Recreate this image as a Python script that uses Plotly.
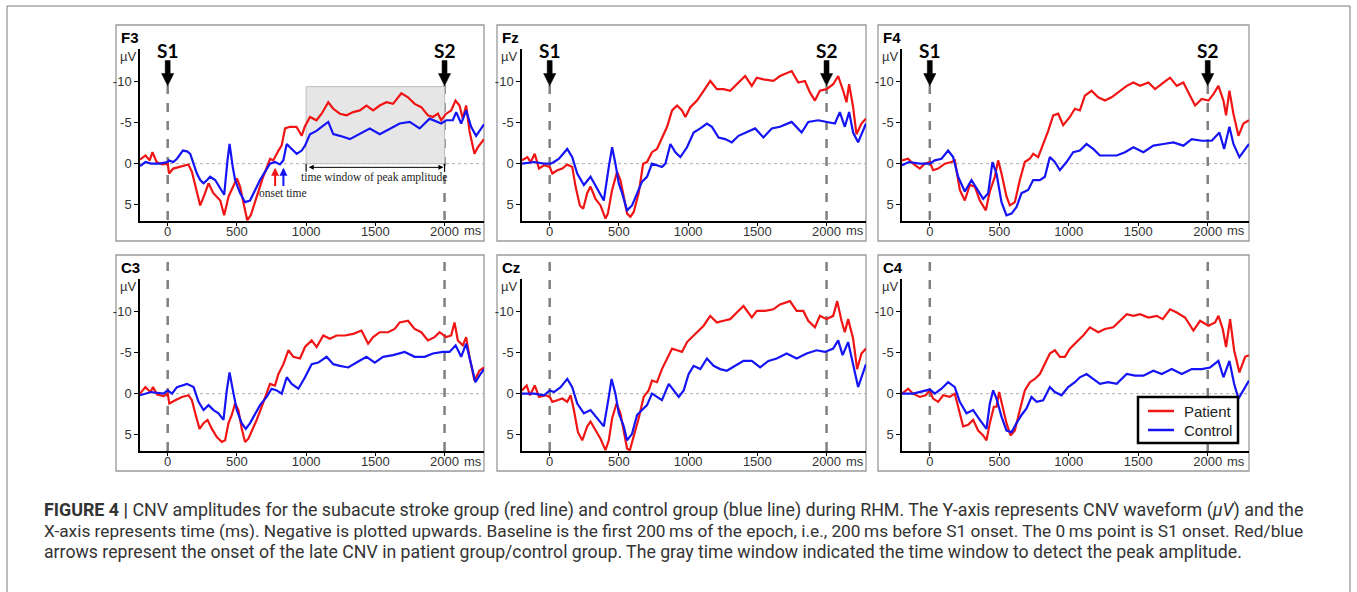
import plotly.graph_objects as go

# ---------------- data (time in ms, amplitude in µV) ----------------
F3_patient_t = [-200,-160,-130,-110,-80,-40,0,10,40,80,150,175,200,235,265,295,330,380,408,440,500,523,550,575,600,620,655,690,740,763,800,823,848,883,930,968,990,1028,1075,1112,1160,1196,1244,1292,1340,1388,1436,1484,1532,1580,1628,1688,1736,1784,1832,1880,1916,1952,1976,2012,2048,2079,2108,2132,2156,2180,2216,2240,2285]
F3_patient_v = [-0.5,-1.0,-0.4,-1.4,-0.2,0.1,0.0,1.2,0.6,0.4,0.1,1.0,2.8,5.1,3.8,2.4,3.6,4.5,6.3,4.0,1.8,2.8,5.0,6.9,6.3,5.3,3.6,1.6,-0.6,-0.4,-1.6,-2.2,-4.3,-4.5,-4.5,-3.4,-4.5,-5.7,-5.3,-6.1,-7.5,-6.7,-6.1,-5.9,-6.3,-6.5,-7.1,-6.5,-7.1,-7.5,-7.3,-8.6,-8.1,-7.3,-6.9,-5.9,-5.7,-6.1,-5.3,-6.1,-6.5,-7.7,-7.1,-5.5,-7.1,-4.0,-1.2,-2.0,-3.0]
F3_control_t = [-200,-160,-120,-60,0,7,40,67,110,140,163,190,211,235,259,285,307,343,380,408,432,447,470,487,523,559,595,631,667,703,739,775,811,835,860,896,932,968,992,1028,1075,1112,1160,1196,1244,1316,1388,1460,1532,1604,1676,1748,1820,1892,1940,1976,2012,2060,2084,2120,2156,2192,2228,2285]
F3_control_v = [0.3,-0.2,0.0,0.0,-0.2,-0.4,-0.2,-0.6,-1.6,-1.5,-1.2,0.2,1.2,2.0,2.4,2.0,1.6,2.0,3.0,3.8,-0.4,-2.4,0.4,2.0,3.6,4.7,4.5,3.2,2.0,1.0,0.0,-0.2,0.1,-0.4,-2.4,-1.8,-1.2,-1.6,-2.2,-3.6,-4.0,-4.5,-5.1,-3.6,-3.4,-3.0,-3.6,-4.3,-3.6,-4.3,-4.9,-5.1,-4.3,-5.5,-5.1,-4.9,-5.3,-5.3,-6.3,-4.9,-6.5,-4.5,-3.4,-4.8]

Fz_patient_t = [-200,-161,-137,-108,-77,-41,0,19,55,91,127,163,187,218,242,271,295,331,367,403,420,451,487,511,535,559,583,607,643,675,703,739,775,811,848,884,920,956,980,1016,1064,1112,1160,1208,1256,1304,1352,1412,1460,1496,1544,1616,1664,1712,1748,1796,1844,1880,1916,1952,2000,2048,2084,2120,2144,2163,2192,2216,2252,2285]
Fz_patient_v = [-0.4,-0.8,-0.2,-1.2,0.6,0.2,0.4,1.2,0.8,0.6,0.1,0.4,2.8,5.1,5.5,3.6,2.8,4.3,5.1,6.7,6.1,3.2,1.0,2.0,4.0,6.1,6.5,5.9,3.6,0.0,-0.2,-1.4,-1.8,-3.2,-4.5,-6.5,-7.1,-6.5,-5.7,-6.9,-7.7,-8.9,-10.1,-9.1,-9.1,-8.9,-9.7,-10.7,-9.5,-10.5,-10.3,-10.1,-10.7,-11.1,-11.3,-9.9,-10.1,-8.7,-7.7,-8.9,-9.1,-9.7,-10.7,-8.9,-7.5,-9.7,-6.9,-3.6,-4.9,-5.5]
Fz_control_t = [-200,-113,-40,7,31,67,127,163,199,247,295,343,391,427,451,475,499,523,559,595,631,667,703,739,775,811,836,872,908,944,992,1040,1088,1136,1172,1220,1268,1316,1364,1424,1484,1544,1604,1664,1748,1820,1868,1940,2000,2060,2096,2132,2163,2192,2228,2285]
Fz_control_v = [0.0,-0.2,0.0,0.0,-0.2,-0.6,-1.8,-0.8,1.2,2.6,1.6,3.0,4.5,0.4,-2.0,0.0,2.4,3.6,5.7,5.1,3.6,2.2,1.6,0.0,0.2,0.4,0.0,-2.4,-1.4,-0.8,-2.0,-3.8,-4.3,-4.9,-4.5,-3.2,-3.0,-2.6,-3.4,-3.8,-4.3,-3.2,-4.3,-4.5,-5.1,-3.8,-5.1,-5.3,-5.1,-4.9,-6.3,-4.5,-6.3,-3.8,-2.6,-4.9]

F4_patient_t = [-200,-156,-120,-72,-36,0,24,60,108,156,180,216,252,288,324,360,403,432,468,492,516,552,576,612,648,684,720,744,780,816,852,888,924,960,1008,1044,1080,1116,1164,1212,1260,1308,1369,1417,1465,1513,1573,1621,1681,1729,1777,1825,1861,1909,1957,2005,2041,2077,2113,2132,2156,2185,2221,2257,2297]
F4_patient_v = [-0.4,-0.6,0.0,0.6,0.0,-0.2,0.8,0.6,0.0,-0.2,-0.4,3.2,4.5,2.6,2.8,4.5,5.7,3.4,1.6,-0.4,1.2,4.0,5.1,4.7,2.0,-0.2,-0.6,-1.2,-0.8,-2.4,-4.0,-5.9,-6.1,-4.7,-5.7,-6.7,-6.5,-8.3,-8.9,-8.1,-7.7,-8.1,-8.9,-9.5,-9.9,-9.5,-9.9,-9.1,-9.9,-10.5,-9.5,-9.9,-8.7,-7.1,-7.9,-7.7,-8.5,-9.5,-7.7,-5.9,-8.9,-6.1,-3.4,-4.9,-5.3]
F4_control_t = [-200,-150,-72,0,36,84,132,168,204,252,300,336,384,420,451,480,516,552,588,624,660,708,744,792,828,864,900,936,984,1032,1080,1128,1176,1224,1284,1345,1405,1465,1537,1609,1681,1753,1825,1885,1957,2029,2084,2118,2156,2185,2228,2297]
F4_control_v = [0.2,-0.2,0.0,0.0,-0.4,-0.6,-1.6,-0.8,1.6,3.4,2.0,3.0,4.3,3.6,-0.2,1.2,4.7,6.3,6.1,5.3,3.6,3.2,2.0,2.0,1.6,-0.8,-0.2,0.8,-0.2,-1.4,-1.6,-2.4,-1.8,-1.0,-1.0,-1.0,-1.4,-2.0,-1.4,-2.2,-2.4,-2.6,-2.2,-3.0,-2.8,-2.8,-3.8,-1.8,-4.5,-2.4,-0.8,-2.4]

C3_patient_t = [-200,-161,-125,-106,-77,-29,0,12,55,103,151,175,199,230,259,288,319,355,391,415,439,463,487,511,535,559,583,615,643,679,715,739,775,800,836,872,908,956,992,1040,1076,1124,1172,1220,1280,1340,1400,1448,1484,1532,1592,1640,1676,1736,1784,1832,1880,1928,1964,2012,2048,2072,2096,2132,2156,2180,2216,2252,2285]
C3_patient_v = [0.0,-0.8,-0.2,-0.8,0.1,0.3,0.0,1.2,0.8,0.4,0.2,0.8,2.4,4.3,3.6,3.2,4.3,5.3,5.9,5.7,3.6,2.6,1.2,2.0,4.3,5.9,5.5,4.3,3.2,1.6,0.0,-1.2,-1.0,-2.4,-3.6,-5.3,-4.5,-4.3,-5.7,-6.5,-5.7,-7.1,-6.7,-7.1,-7.1,-7.3,-7.7,-6.1,-6.9,-7.5,-7.5,-7.9,-8.7,-8.9,-7.9,-7.5,-6.5,-6.9,-7.5,-6.9,-7.1,-8.7,-6.5,-5.9,-6.9,-4.5,-1.6,-2.8,-3.2]
C3_control_t = [-200,-120,-30,0,31,67,139,187,223,259,295,331,367,403,427,447,471,499,535,564,595,631,667,715,751,788,824,860,896,944,992,1040,1088,1148,1196,1244,1304,1364,1436,1496,1556,1628,1712,1784,1856,1916,1988,2036,2080,2120,2156,2192,2223,2252,2285]
C3_control_v = [0.2,-0.2,0.0,-0.4,0.0,-0.8,-1.2,-0.8,1.0,2.0,1.4,2.0,2.4,3.2,-0.4,-2.6,-0.4,2.0,3.6,4.3,3.6,2.4,1.4,0.4,-0.6,-0.4,0.0,-2.0,-1.2,-0.6,-2.0,-3.6,-3.8,-4.5,-3.6,-3.4,-3.2,-3.8,-4.5,-3.8,-4.5,-4.7,-5.1,-4.5,-4.5,-4.9,-5.1,-5.1,-5.9,-4.5,-6.1,-3.6,-1.4,-2.2,-3.0]

Cz_patient_t = [-200,-166,-142,-108,-77,-29,0,19,55,91,127,151,175,204,235,271,295,331,367,403,427,451,483,511,535,559,579,607,643,679,715,739,775,811,848,884,920,956,992,1028,1064,1112,1160,1208,1256,1304,1352,1400,1460,1496,1556,1616,1664,1736,1784,1832,1868,1916,1952,2000,2048,2077,2108,2132,2156,2192,2221,2252,2285]
Cz_patient_v = [-0.4,-1.0,0.2,-1.0,0.4,0.2,0.4,1.0,0.8,0.6,1.0,0.2,2.0,4.7,5.7,4.0,3.4,4.5,5.5,6.9,5.7,3.0,1.2,2.4,4.5,6.7,6.9,5.3,3.0,0.4,-0.4,-1.6,-1.4,-3.0,-4.3,-5.5,-5.3,-5.1,-6.3,-6.9,-7.5,-8.3,-9.5,-8.7,-8.9,-9.1,-9.9,-10.7,-9.3,-10.1,-10.1,-10.3,-10.9,-11.3,-10.1,-10.1,-8.9,-8.1,-9.5,-9.1,-9.5,-11.3,-8.9,-7.5,-9.1,-6.7,-3.0,-4.9,-5.5]
Cz_control_t = [-200,-110,-41,0,31,79,127,163,199,247,295,343,391,427,447,475,499,535,559,595,631,667,703,739,775,811,860,896,932,968,1004,1040,1088,1136,1184,1232,1280,1340,1400,1460,1520,1580,1640,1712,1784,1856,1928,1988,2048,2084,2116,2156,2192,2228,2285]
Cz_control_v = [0.0,0.0,0.2,-0.4,-0.2,-0.8,-1.8,-0.8,1.2,2.4,2.0,3.0,4.0,0.4,-1.8,0.0,2.4,4.0,5.7,4.9,2.6,2.0,1.4,0.0,0.4,0.8,-1.2,-0.4,0.4,-0.4,-2.4,-3.4,-3.0,-4.3,-3.4,-3.0,-2.8,-3.4,-4.0,-4.0,-3.2,-4.0,-4.3,-4.9,-4.3,-4.9,-5.3,-5.1,-5.5,-6.5,-4.7,-6.3,-3.4,-0.8,-3.6]

C4_patient_t = [-200,-156,-120,-72,-30,0,24,60,96,144,180,204,240,276,312,348,384,408,432,461,480,499,523,552,581,612,648,684,720,756,792,828,864,900,936,972,1008,1056,1104,1152,1212,1260,1320,1369,1417,1465,1513,1573,1633,1676,1729,1777,1837,1897,1945,2005,2053,2077,2108,2132,2161,2190,2228,2269,2297]
C4_patient_v = [0.0,-0.6,0.0,0.4,0.2,-0.4,0.6,1.0,0.2,0.4,0.0,1.6,4.0,3.8,3.2,4.5,5.1,5.7,3.6,1.6,1.6,-0.2,1.6,3.6,5.1,4.5,2.0,-0.4,-1.4,-1.8,-2.4,-3.6,-4.9,-5.3,-4.5,-4.5,-5.5,-6.3,-7.1,-8.1,-7.5,-7.9,-8.1,-8.9,-9.7,-9.5,-9.7,-9.3,-9.5,-9.1,-10.3,-9.9,-9.3,-7.7,-8.9,-8.3,-8.7,-9.5,-7.9,-5.7,-9.1,-5.3,-2.6,-4.5,-4.7]
C4_control_t = [-200,-120,0,36,84,132,180,216,264,312,360,408,432,456,480,516,552,588,624,660,696,732,768,816,864,900,948,996,1044,1080,1128,1176,1224,1284,1345,1417,1477,1537,1609,1669,1741,1813,1885,1957,2017,2077,2113,2156,2190,2221,2297]
C4_control_v = [0.0,0.0,-0.5,0.0,-0.6,-1.4,-0.8,1.0,2.4,2.0,3.2,4.3,1.2,-0.4,0.6,2.8,4.5,4.7,3.6,2.6,1.8,0.4,1.0,0.8,-0.8,-0.2,0.2,-0.8,-1.4,-2.0,-2.4,-1.8,-1.2,-1.4,-1.2,-2.4,-2.2,-2.2,-2.8,-2.4,-3.0,-2.4,-3.0,-3.0,-3.2,-4.0,-2.0,-4.0,-1.2,0.6,-1.6]

panel_names = ["F3", "Fz", "F4", "C3", "Cz", "C4"]
series_names = ["Patient", "Control"]
x_ticks = [0, 500, 1000, 1500, 2000]
y_ticks = [-10, -5, 0, 5]
y_tick_labels = ["-10", "-5", "0", "5"]
stimulus_times = [0, 2000]
stimulus_labels = ["S1", "S2"]
window_times = [1000, 2000]
window_peak = -9.4
onset_patient = 776
onset_control = 836

CAPTION = [
    "<b>FIGURE 4 |</b> CNV amplitudes for the subacute stroke group (red line) and control group (blue line) during RHM. The Y-axis represents CNV waveform (<i>µV</i>) and the",
    "X-axis represents time (ms). Negative is plotted upwards. Baseline is the first 200\u2009ms of the epoch, i.e., 200\u2009ms before S1 onset. The 0\u2009ms point is S1 onset. Red/blue",
    "arrows represent the onset of the late CNV in patient group/control group. The gray time window indicated the time window to detect the peak amplitude.",
]
CAPTION_SIZES = [17.85, 17.3, 17.7]   # first two lines are justified in the original

series_data = {
    "F3": (F3_patient_t, F3_patient_v, F3_control_t, F3_control_v),
    "Fz": (Fz_patient_t, Fz_patient_v, Fz_control_t, Fz_control_v),
    "F4": (F4_patient_t, F4_patient_v, F4_control_t, F4_control_v),
    "C3": (C3_patient_t, C3_patient_v, C3_control_t, C3_control_v),
    "Cz": (Cz_patient_t, Cz_patient_v, Cz_control_t, Cz_control_v),
    "C4": (C4_patient_t, C4_patient_v, C4_control_t, C4_control_v),
}
for k, (a, b, c, d) in series_data.items():
    assert len(a) == len(b), (k, "patient", len(a), len(b))
    assert len(c) == len(d), (k, "control", len(c), len(d))

# ---------------- layout geometry (pixels) ----------------
W, H = 1357, 592
def px(x): return x / W
def py(y): return 1 - y / H

RED = "#f01414"
BLUE = "#1414f5"
TICK_FONT = dict(family="Liberation Sans, Arial, sans-serif", size=13, color="#333333")

col_geo = [(116, 484, 140, [-200, 2285]), (497, 866, 522, [-200, 2285]), (878, 1249, 902, [-200, 2297])]
row_geo = [(25, 241, 49, 221), (255, 471, 279, 451)]
Y_RANGE = [7, -14]

fig = go.Figure()
shapes, annotations = [], []

for i, name in enumerate(panel_names):
    r, c = divmod(i, 3)
    bl, br, axl, xr = col_geo[c]
    bt, bb, axt, axb = row_geo[r]
    n = "" if i == 0 else str(i + 1)
    xa, ya = "x" + n, "y" + n
    pt, pv, ct, cv = series_data[name]
    fig.add_trace(go.Scatter(x=pt, y=pv, mode="lines", line=dict(color=RED, width=2.2),
                             name=series_names[0], xaxis=xa, yaxis=ya, showlegend=False))
    fig.add_trace(go.Scatter(x=ct, y=cv, mode="lines", line=dict(color=BLUE, width=2.2),
                             name=series_names[1], xaxis=xa, yaxis=ya, showlegend=False))
    fig.update_layout({
        "xaxis" + n: dict(domain=[px(axl), px(br)], range=xr, anchor=ya, tickvals=x_ticks,
                          showline=True, linecolor="black", linewidth=1.5, ticks="outside",
                          ticklen=3, tickcolor="black", tickfont=TICK_FONT, showgrid=False,
                          zeroline=False, fixedrange=True, ticklabelstandoff=-5),
        "yaxis" + n: dict(domain=[py(axb), py(axt)], range=Y_RANGE, anchor=xa, tickvals=y_ticks,
                          ticktext=y_tick_labels, showline=True, linecolor="black", linewidth=1.5,
                          ticks="outside", ticklen=4, tickcolor="black", tickfont=TICK_FONT,
                          showgrid=False, zeroline=False, fixedrange=True),
    })
    shapes.append(dict(type="rect", xref="paper", yref="paper", x0=px(bl), x1=px(br), y0=py(bb), y1=py(bt),
                       line=dict(color="#9a9a9a", width=1.3), fillcolor="rgba(0,0,0,0)", layer="below"))
    shapes.append(dict(type="line", xref=xa + " domain", yref=ya, x0=0, x1=1, y0=0, y1=0,
                       line=dict(color="#b0b0b0", width=1, dash="dot"), layer="below"))
    for st in stimulus_times:
        if r == 0:
            shapes.append(dict(type="line", xref=xa, yref=ya, x0=st, x1=st, y0=-9.6, y1=Y_RANGE[0],
                               line=dict(color="#808080", width=2.5, dash="dash"), layer="below"))
        else:
            shapes.append(dict(type="line", xref=xa, yref=ya + " domain", x0=st, x1=st, y0=0,
                               y1=1 + (axt - bt) / (axb - axt),
                               line=dict(color="#808080", width=2.5, dash="dash"), layer="below"))
    annotations.append(dict(text="<b>%s</b>" % name, xref="paper", yref="paper", x=px(bl + 3),
                            y=py(bt + 12), xanchor="left", yanchor="middle", showarrow=False,
                            font=dict(family="Liberation Sans, Arial", size=15, color="black")))
    annotations.append(dict(text="µV", xref="paper", yref="paper", x=px(bl + 2),
                            y=py(axt + 7), xanchor="left", yanchor="middle", showarrow=False,
                            font=dict(family="Liberation Sans, Arial", size=13, color="#333333")))
    annotations.append(dict(text="ms", xref=xa, yref="paper", x=2205, y=py(axb + 10),
                            xanchor="center", yanchor="middle", showarrow=False, font=TICK_FONT))
    if r == 0:
        for st, lab in zip(stimulus_times, stimulus_labels):
            path = ("M {a},-12.6 L {b},-12.6 L {b},-11.0 L {d},-11.0 L {c},-9.5 L {e},-11.0 L {a},-11.0 Z"
                    .format(a=st - 18, b=st + 18, c=st, d=st + 44, e=st - 44))
            shapes.append(dict(type="path", xref=xa, yref=ya, path=path, fillcolor="black",
                               line=dict(color="black", width=0.5), layer="above"))
            annotations.append(dict(text="<b>%s</b>" % lab, xref=xa, yref=ya, x=st, y=-13.8,
                                    xanchor="center", yanchor="middle", showarrow=False,
                                    font=dict(family="Lato, Open Sans, sans-serif", size=19, color="black")))
    if name == "F3":
        shapes.append(dict(type="rect", xref=xa, yref=ya, x0=window_times[0], x1=window_times[1],
                           y0=0, y1=window_peak, fillcolor="#e6e6e6",
                           line=dict(color="#bdbdbd", width=1), layer="below"))
        for wt in window_times:
            shapes.append(dict(type="line", xref=xa, yref=ya, x0=wt, x1=wt, y0=0.0, y1=1.0,
                               line=dict(color="black", width=1.2)))
        annotations.append(dict(x=window_times[1] - 8, y=0.45, ax=window_times[0] + 8, ay=0.45,
                                xref=xa, yref=ya, axref=xa, ayref=ya, text="", showarrow=True,
                                arrowhead=2, arrowside="end+start", arrowwidth=1, arrowsize=1,
                                arrowcolor="black"))
        annotations.append(dict(text="time window of peak amplitude", xref=xa, yref=ya, x=1490, y=1.65,
                                xanchor="center", yanchor="middle", showarrow=False,
                                font=dict(family="Liberation Serif, Times New Roman, serif", size=11.5,
                                          color="#222222")))
        annotations.append(dict(text="onset time", xref=xa, yref=ya, x=835, y=3.55,
                                xanchor="center", yanchor="middle", showarrow=False,
                                font=dict(family="Liberation Serif, Times New Roman, serif", size=11.5,
                                          color="#222222")))
        for ot, col in ((onset_patient, RED), (onset_control, BLUE)):
            annotations.append(dict(x=ot, y=0.5, ax=ot, ay=2.9, xref=xa, yref=ya, axref=xa, ayref=ya,
                                    text="", showarrow=True, arrowhead=2, arrowwidth=2,
                                    arrowsize=0.8, arrowcolor=col))

# legend box inside the C4 panel
LEG_L, LEG_T, LEG_R, LEG_B = 1138, 397, 1238, 443
shapes.append(dict(type="rect", xref="paper", yref="paper", x0=px(LEG_L), x1=px(LEG_R), y0=py(LEG_B),
                   y1=py(LEG_T), fillcolor="white", line=dict(color="black", width=2.5), layer="above"))
for k, (nm, col) in enumerate(zip(series_names, (RED, BLUE))):
    yy = LEG_T + 14 + 19 * k
    shapes.append(dict(type="line", xref="paper", yref="paper", x0=px(LEG_L + 10), x1=px(LEG_L + 36),
                       y0=py(yy), y1=py(yy), line=dict(color=col, width=2.5), layer="above"))
    annotations.append(dict(text=nm, xref="paper", yref="paper", x=px(LEG_L + 44), y=py(yy),
                            xanchor="left", yanchor="middle", showarrow=False,
                            font=dict(family="Liberation Sans, Arial", size=15, color="#222222")))

# outer figure frame
shapes.append(dict(type="rect", xref="paper", yref="paper", x0=px(7), x1=px(1350), y0=py(600), y1=py(6),
                   line=dict(color="#7a7a7a", width=1), fillcolor="rgba(0,0,0,0)", layer="below"))

# caption
for k, (line, sz) in enumerate(zip(CAPTION, CAPTION_SIZES)):
    annotations.append(dict(text=line, xref="paper", yref="paper", x=px(42), y=py(510 + 21 * k),
                            xanchor="left", yanchor="middle", showarrow=False, align="left",
                            font=dict(family="Roboto, sans-serif", size=sz, color="#333333")))

fig.update_layout(
    width=W, height=H, margin=dict(l=0, r=0, t=0, b=0),
    template="none", paper_bgcolor="white", plot_bgcolor="rgba(0,0,0,0)",
    shapes=shapes, annotations=annotations, showlegend=False,
)

fig.write_html("out.html")
